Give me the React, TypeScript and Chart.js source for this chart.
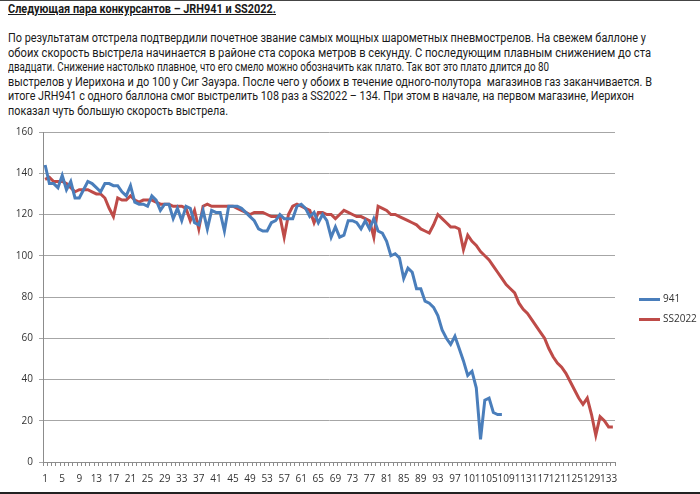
import React, { useEffect, useLayoutEffect, useRef } from 'react';
import { Chart, registerables } from 'chart.js';

Chart.register(...registerables);

// ---------- DATA ----------
const shotNumbers: string[] = Array.from({ length: 134 }, (_, i) => String(i + 1));

const series941: number[] = [
  144, 135, 135, 133, 139, 132, 136, 128, 128, 132,
  136, 135, 133, 131, 135, 135, 134, 134, 131, 129,
  134, 126, 125, 125, 124, 129, 127, 122, 125, 125,
  118, 123, 117, 124, 123, 116, 115, 122, 113, 122,
  121, 121, 112, 124, 124, 124, 123, 121, 119, 117,
  113, 112, 112, 116, 117, 120, 118, 118, 118, 124,
  125, 123, 119, 121, 116, 120, 117, 109, 114, 109,
  110, 117, 117, 116, 113, 117, 113, 118, 112, 111,
  107, 100, 101, 99, 89, 94, 92, 84, 84, 78,
  77, 75, 71, 64, 60, 57, 61, 55, 49, 42,
  44, 36, 11, 30, 31, 24, 23, 23,
];

const seriesSS2022: number[] = [
  137, 138, 136, 136, 136, 135, 133, 131, 132, 132,
  132, 131, 130, 130, 128, 123, 119, 128, 127, 127,
  129, 127, 126, 127, 127, 127, 126, 125, 125, 125,
  124, 124, 124, 123, 117, 122, 113, 124, 125, 124,
  124, 124, 124, 124, 124, 123, 122, 121, 120, 121,
  121, 121, 120, 119, 119, 119, 109, 120, 124, 125,
  124, 123, 122, 116, 121, 121, 120, 120, 118, 120,
  122, 121, 120, 119, 119, 118, 117, 109, 124, 123,
  122, 120, 120, 119, 118, 117, 116, 115, 113, 112,
  111, 115, 120, 118, 116, 114, 114, 113, 103, 110,
  107, 105, 102, 100, 98, 95, 92, 89, 86, 84,
  82, 77, 74, 72, 69, 66, 63, 60, 55, 51,
  48, 46, 43, 39, 35, 31, 28, 31, 23, 13,
  22, 20, 17, 17,
];

const seriesNames: string[] = ['941', 'SS2022'];
const seriesColors: string[] = ['#4a7ebb', '#be4b48'];
const yMin = 0;
const yMax = 160;
const yStep = 20;
const labelEvery = 4;

const titleText = 'Следующая пара конкурсантов – JRH941 и SS2022.';
const paragraphLines: string[] = [
  'По результатам отстрела подтвердили почетное звание самых мощных шарометных пневмострелов. На свежем баллоне у',
  'обоих скорость выстрела начинается в районе ста сорока метров в секунду. С последующим плавным снижением до ста',
  'двадцати. Снижение настолько плавное, что его смело можно обозначить как плато. Так вот это плато длится до 80',
  'выстрелов у Иерихона и до 100 у Сиг Зауэра. После чего у обоих в течение одного-полутора  магазинов газ заканчивается. В',
  'итоге JRH941 с одного баллона смог выстрелить 108 раз а SS2022 – 134. При этом в начале, на первом магазине, Иерихон',
  'показал чуть большую скорость выстрела.',
];
const paragraphWidths: number[] = [638, 643, 541, 644, 626, 220];
const titleWidth = 268;

// ---------- TEXT LINE ----------
function FitLine(props: { text: string; width: number; top: number; bold?: boolean }) {
  const ref = useRef<HTMLSpanElement | null>(null);
  useLayoutEffect(() => {
    const el = ref.current;
    if (!el) return;
    const fit = () => {
      el.style.transform = 'none';
      const w = el.getBoundingClientRect().width;
      if (w > 0) el.style.transform = `scaleX(${props.width / w})`;
    };
    fit();
    if ((document as any).fonts && (document as any).fonts.ready) {
      (document as any).fonts.ready.then(fit);
    }
  }, [props.text, props.width]);
  return (
    <span
      ref={ref}
      style={{
        position: 'absolute',
        left: 8,
        top: props.top,
        whiteSpace: 'pre',
        fontFamily: 'Roboto, "Noto Sans", sans-serif',
        fontSize: 12.5,
        lineHeight: '15px',
        color: '#1a1a1a',
        fontWeight: props.bold ? 700 : 400,
        textDecoration: props.bold ? 'underline' : 'none',
        transformOrigin: '0 0',
        display: 'inline-block',
      }}
    >
      {props.text}
    </span>
  );
}

// ---------- CHART ----------
const sideLegend = {
  id: 'sideLegend',
  afterDraw(chart: any) {
    const { ctx, chartArea } = chart;
    const midY = (chartArea.top + chartArea.bottom) / 2;
    ctx.save();
    chart.data.datasets.forEach((ds: any, i: number) => {
      const y = Math.round(midY + 2 + i * 20) + 0.5;
      const x0 = chartArea.right + 24;
      ctx.strokeStyle = ds.borderColor;
      ctx.lineWidth = 3;
      ctx.beginPath();
      ctx.moveTo(x0, y);
      ctx.lineTo(x0 + 21, y);
      ctx.stroke();
      ctx.fillStyle = '#333';
      ctx.font = '10px "Open Sans", sans-serif';
      ctx.textBaseline = 'middle';
      ctx.textAlign = 'left';
      ctx.fillText(ds.label, x0 + 24, y);
    });
    ctx.restore();
  },
};

function SpeedChart() {
  const canvasRef = useRef<HTMLCanvasElement | null>(null);
  useEffect(() => {
    const canvas = canvasRef.current;
    if (!canvas) return;
    const tickFont = { family: '"Open Sans", sans-serif', size: 10 };
    const chart = new Chart(canvas, {
      type: 'line',
      data: {
        labels: shotNumbers,
        datasets: [
          {
            label: seriesNames[0],
            data: series941,
            borderColor: seriesColors[0],
            backgroundColor: seriesColors[0],
            borderWidth: 3,
            pointRadius: 0,
            tension: 0,
            fill: false,
          },
          {
            label: seriesNames[1],
            data: seriesSS2022,
            borderColor: seriesColors[1],
            backgroundColor: seriesColors[1],
            borderWidth: 3,
            pointRadius: 0,
            tension: 0,
            fill: false,
          },
        ],
      },
      options: {
        responsive: false,
        animation: false,
        events: [],
        layout: { padding: { top: 12, right: 85, left: 0, bottom: 0 } },
        plugins: {
          legend: { display: false },
          tooltip: { enabled: false },
          title: { display: false },
        },
        scales: {
          x: {
            type: 'category',
            offset: true,
            grid: {
              display: true,
              drawOnChartArea: false,
              drawTicks: true,
              tickLength: 4,
              color: '#8c8c8c',
              offset: true,
            },
            border: { display: true, color: '#8c8c8c', width: 1 },
            ticks: {
              autoSkip: false,
              maxRotation: 0,
              minRotation: 0,
              padding: 7,
              color: '#333',
              font: tickFont,
              callback: (_v: any, i: number) => (i % labelEvery === 0 ? shotNumbers[i] : ''),
            },
            afterFit: (s: any) => {
              s.height = 32;
            },
          },
          y: {
            min: yMin,
            max: yMax,
            grid: { color: '#a6a6a6', tickLength: 4, lineWidth: 1 },
            border: { display: true, color: '#8c8c8c', width: 1 },
            ticks: { stepSize: yStep, padding: 6, color: '#333', font: tickFont },
            afterFit: (s: any) => {
              s.width = 43;
            },
          },
        },
      },
      plugins: [sideLegend],
    } as any);
    return () => chart.destroy();
  }, []);
  return (
    <canvas
      ref={canvasRef}
      width={700}
      height={374}
      style={{ position: 'absolute', left: 0, top: 120, width: 700, height: 374 }}
    />
  );
}

export default function App() {
  return (
    <div
      style={{
        position: 'absolute',
        left: 0,
        top: 0,
        width: 700,
        height: 494,
        background: '#fff',
        overflow: 'hidden',
      }}
    >
      <div style={{ position: 'absolute', left: 0, top: 0, width: 700, height: 1, background: '#444' }} />
      <FitLine text={titleText} width={titleWidth} top={1} bold />
      {paragraphLines.map((t, i) => (
        <FitLine key={i} text={t} width={paragraphWidths[i]} top={30 + i * 14.5} />
      ))}
      <SpeedChart />
      <div style={{ position: 'absolute', left: 0, top: 492, width: 700, height: 2, background: '#222' }} />
    </div>
  );
}
